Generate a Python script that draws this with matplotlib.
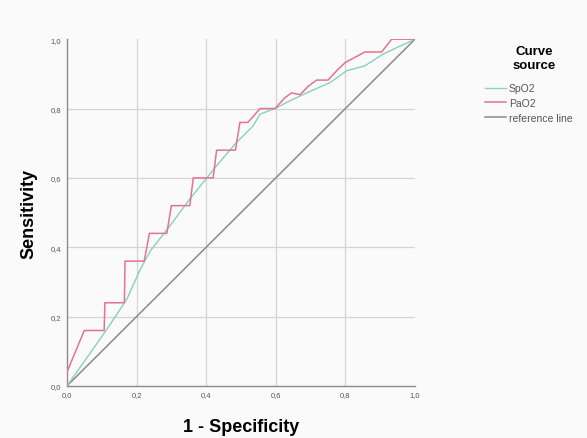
import matplotlib.pyplot as plt

plt.rcParams['font.family'] = ['Liberation Sans', 'DejaVu Sans']

# ROC points (1 - specificity, sensitivity)
spo2_x = [0.0, 0.109, 0.172, 0.21, 0.24, 0.296, 0.353, 0.43, 0.487, 0.535,
          0.555, 0.598, 0.646, 0.693, 0.756, 0.804, 0.856, 0.908, 1.0]
spo2_y = [0.0, 0.155, 0.25, 0.335, 0.39, 0.462, 0.539, 0.635, 0.702, 0.75,
          0.784, 0.80, 0.825, 0.847, 0.875, 0.909, 0.923, 0.957, 1.0]

pao2_x = [0.0, 0.0, 0.05, 0.107, 0.109, 0.165, 0.167, 0.222, 0.237, 0.287,
          0.30, 0.353, 0.363, 0.42, 0.43, 0.484, 0.497, 0.52, 0.555, 0.598,
          0.625, 0.645, 0.67, 0.693, 0.717, 0.75, 0.775, 0.80, 0.856, 0.904,
          0.933, 1.0]
pao2_y = [0.0, 0.04, 0.16, 0.16, 0.24, 0.24, 0.36, 0.36, 0.44, 0.44,
          0.52, 0.52, 0.60, 0.60, 0.68, 0.68, 0.76, 0.76, 0.80, 0.80,
          0.83, 0.845, 0.84, 0.864, 0.882, 0.882, 0.909, 0.933, 0.963, 0.963,
          1.0, 1.0]

ref_x = [0.0, 1.0]
ref_y = [0.0, 1.0]

ticks = [0.0, 0.2, 0.4, 0.6, 0.8, 1.0]
tick_labels = ['0,0', '0,2', '0,4', '0,6', '0,8', '1,0']

fig = plt.figure(figsize=(5.87, 4.39), dpi=100, facecolor='#fafafa')
ax = fig.add_axes([0.114, 0.1185, 0.593, 0.79])
ax.set_facecolor('#fafafa')

ax.plot(spo2_x, spo2_y, color='#86d0c6', lw=1.0, label='SpO2', zorder=3)
ax.plot(pao2_x, pao2_y, color='#e5728e', lw=1.1, label='PaO2', zorder=4)
ax.plot(ref_x, ref_y, color='#8a8a8a', lw=1.1, label='reference line', zorder=2)

ax.set_xlim(0, 1)
ax.set_ylim(0, 1)
ax.set_xticks(ticks)
ax.set_yticks(ticks)
ax.set_xticklabels(tick_labels)
ax.set_yticklabels(tick_labels)
ax.tick_params(length=0, labelsize=5.5, labelcolor='#555555', pad=4)

# grid only at the inner ticks
for t in ticks[1:-1]:
    ax.axhline(t, color='#d4d4d4', lw=0.9, zorder=1)
    ax.axvline(t, color='#d4d4d4', lw=0.9, zorder=1)

for side in ['top', 'right']:
    ax.spines[side].set_visible(False)
for side in ['left', 'bottom']:
    ax.spines[side].set_color('#8a8a8a')
    ax.spines[side].set_linewidth(1.0)

ax.set_xlabel('1 - Specificity', fontsize=13, fontweight='bold', labelpad=14)
ax.set_ylabel('Sensitivity', fontsize=13, fontweight='bold', labelpad=10)

# legend title drawn separately so the gap below it can match
fig.text(534 / 587, 1 - 59 / 439, 'Curve\nsource', ha='center', va='center',
         fontsize=9.5, fontweight='bold', linespacing=1.15)
leg = fig.legend(loc='upper left', bbox_to_anchor=(0.818, 1 - 79 / 439),
                 frameon=False, fontsize=7.5, borderpad=0,
                 handlelength=2.0, handletextpad=0.25, labelspacing=0.45)
for txt in leg.get_texts():
    txt.set_color('#555555')

fig.savefig('out.png', dpi=100, facecolor=fig.get_facecolor())
